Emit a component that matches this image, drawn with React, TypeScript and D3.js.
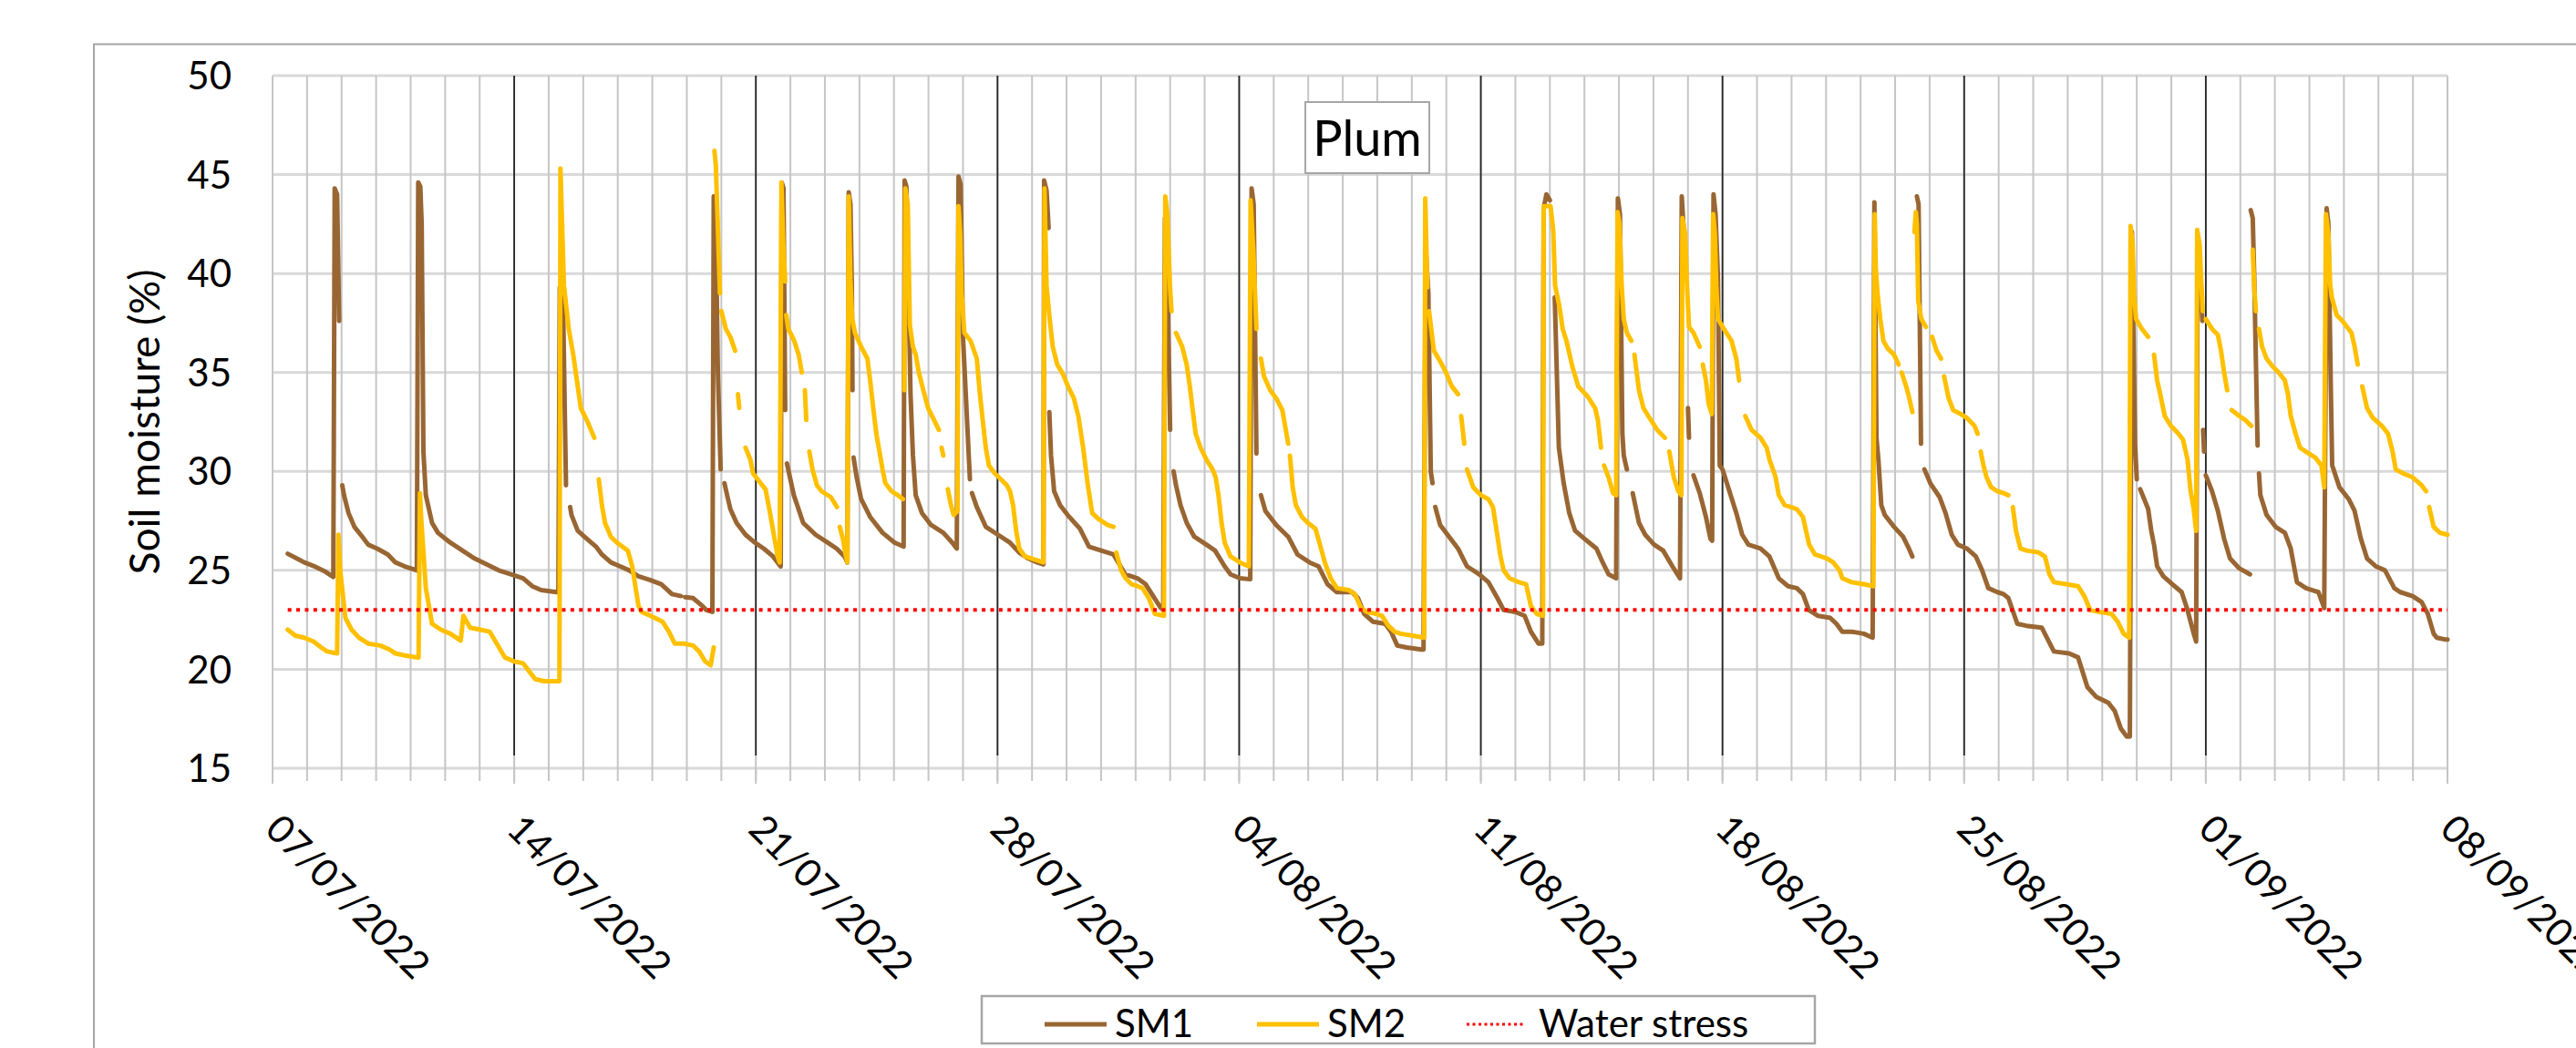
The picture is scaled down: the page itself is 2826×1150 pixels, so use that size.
import * as d3 from 'd3'
import { useRef, useEffect } from 'react'

const chartTitle = 'Plum'
const yTitle = 'Soil moisture (%)'
const startDate = new Date(2022, 6, 7)
const endDate = new Date(2022, 8, 8)
const yTicks = [15, 20, 25, 30, 35, 40, 45, 50]
const waterStress = 23
const weekLineBottom = 15.65
const seriesNames = ['SM1', 'SM2', 'Water stress']

// [days since 07/07/2022 00:00, soil moisture %]; null value = missing reading
const sm1 = [
  [0.44, 25.84], [0.75, 25.56], [0.92, 25.4], [1.19, 25.22], [1.5, 24.96], [1.76, 24.67],
  [1.8, 44.3], [1.87, 44.0], [1.93, 37.6], [1.96, null],
  [2.02, 29.3], [2.07, 28.8], [2.2, 27.9], [2.37, 27.2], [2.6, 26.7], [2.77, 26.3], [3.03, 26.1], [3.34, 25.8], [3.56, 25.4], [3.83, 25.2], [4.18, 25.0],
  [4.22, 44.6], [4.28, 44.4], [4.32, 42.5], [4.37, 31.0], [4.44, 28.8], [4.62, 27.4], [4.79, 26.9], [5.15, 26.4], [5.5, 26.0], [5.85, 25.6], [6.2, 25.3], [6.55, 25.0], [6.9, 24.8], [7.26, 24.6], [7.52, 24.2], [7.78, 24.0], [8.22, 23.9], [8.28, 23.9],
  [8.32, 39.3], [8.42, 38.0], [8.5, 29.3], [8.56, null],
  [8.62, 28.2], [8.66, 27.8], [8.84, 27.0], [9.1, 26.6], [9.37, 26.2], [9.54, 25.8], [9.8, 25.4], [10.07, 25.2], [10.33, 25.0], [10.6, 24.7], [10.95, 24.5], [11.26, 24.3], [11.57, 23.8], [11.83, 23.7], [11.9, null],
  [11.95, 23.65], [12.18, 23.6], [12.45, 23.2], [12.56, 23.0], [12.74, 22.9],
  [12.78, 43.9], [12.83, 43.5], [12.9, 35.0], [12.98, 30.1], [13.03, null],
  [13.09, 29.4], [13.18, 28.7], [13.26, 28.1], [13.44, 27.4], [13.7, 26.8], [13.97, 26.4], [14.23, 26.1], [14.5, 25.7], [14.67, 25.3], [14.72, 25.2],
  [14.75, 44.6], [14.8, 44.3], [14.85, 33.1], [14.87, null],
  [14.9, 30.4], [15.0, 29.6], [15.1, 28.8], [15.37, 27.4], [15.73, 26.8], [16.08, 26.4], [16.34, 26.1], [16.57, 25.7], [16.65, 25.4],
  [16.69, 44.1], [16.74, 43.5], [16.78, 39.4], [16.8, 34.1], [16.81, null],
  [16.83, 30.7], [16.92, 29.7], [17.05, 28.6], [17.31, 27.7], [17.67, 26.9], [18.02, 26.4], [18.28, 26.2],
  [18.31, 44.7], [18.36, 44.4], [18.42, 39.4], [18.48, 33.9], [18.55, 30.8], [18.63, 28.8], [18.81, 27.9], [19.07, 27.3], [19.43, 26.9], [19.69, 26.4], [19.82, 26.1],
  [19.87, 44.9], [19.93, 44.5], [20.0, 36.8], [20.2, 29.6], [20.23, null],
  [20.26, 28.9], [20.4, 28.2], [20.66, 27.2], [21.01, 26.8], [21.36, 26.4], [21.63, 25.9], [21.89, 25.6], [22.15, 25.4], [22.33, 25.3],
  [22.35, 44.7], [22.42, 44.2], [22.48, 42.3], [22.49, null],
  [22.5, 33.0], [22.55, 30.8], [22.64, 29.0], [22.81, 28.3], [23.03, 27.8], [23.39, 27.1], [23.65, 26.2], [24.0, 26.0], [24.36, 25.8], [24.53, 25.3], [24.7, 24.8], [25.05, 24.6], [25.29, 24.3], [25.47, 23.8], [25.73, 23.1], [25.8, 23.0],
  [25.85, 42.8], [25.9, 42.0], [26.0, 32.1], [26.05, null],
  [26.1, 30.0], [26.17, 29.3], [26.3, 28.3], [26.48, 27.4], [26.7, 26.7], [27.05, 26.3], [27.3, 26.0], [27.58, 25.2], [27.75, 24.8], [28.02, 24.6], [28.32, 24.55],
  [28.36, 44.3], [28.42, 43.5], [28.5, 30.9], [28.56, null],
  [28.63, 28.8], [28.76, 28.0], [29.07, 27.3], [29.42, 26.7], [29.69, 25.8], [30.04, 25.4], [30.3, 25.2], [30.56, 24.3], [30.83, 23.9], [31.27, 23.9], [31.44, 23.6], [31.62, 22.8], [31.88, 22.4], [32.23, 22.3], [32.4, 21.9], [32.58, 21.2], [32.85, 21.1], [33.28, 21.0], [33.34, 21.0],
  [33.4, 41.4], [33.48, 39.0], [33.55, 30.0], [33.6, 29.4], [33.64, null],
  [33.68, 28.2], [33.82, 27.3], [34.08, 26.7], [34.34, 26.1], [34.6, 25.2], [34.95, 24.8], [35.22, 24.4], [35.48, 23.6], [35.66, 23.0], [36.0, 22.9], [36.27, 22.7], [36.45, 21.9], [36.67, 21.3], [36.78, 21.3],
  [36.82, 43.3], [36.9, 44.0], [37.0, 43.7], [37.07, null],
  [37.14, 38.8], [37.18, 36.3], [37.26, 31.2], [37.4, 29.4], [37.56, 27.9], [37.73, 27.0], [38.0, 26.6], [38.35, 26.1], [38.53, 25.4], [38.7, 24.8], [38.92, 24.6],
  [38.97, 43.8], [39.03, 43.0], [39.1, 31.9], [39.14, 30.8], [39.23, 30.1], [39.3, null],
  [39.4, 28.9], [39.58, 27.4], [39.76, 26.8], [40.02, 26.3], [40.28, 26.0], [40.55, 25.2], [40.77, 24.6],
  [40.82, 43.9], [40.88, 42.1], [40.94, null],
  [41.0, 33.2], [41.03, 31.7], [41.1, null],
  [41.16, 29.8], [41.34, 28.9], [41.52, 27.7], [41.65, 26.6], [41.7, 26.5],
  [41.74, 44.0], [41.8, 43.0], [41.87, 39.7], [41.92, 30.3], [42.0, 30.1], [42.2, 29.0], [42.4, 27.9], [42.57, 26.8], [42.75, 26.3], [43.1, 26.1], [43.36, 25.7], [43.63, 24.6], [43.9, 24.2], [44.15, 24.1], [44.33, 23.8], [44.5, 23.0], [44.77, 22.7], [45.12, 22.6], [45.3, 22.3], [45.47, 21.9], [45.74, 21.9], [46.09, 21.8], [46.35, 21.6],
  [46.4, 43.6], [46.46, 31.7], [46.52, 30.5], [46.6, 28.3], [46.7, 27.8], [46.97, 27.2], [47.23, 26.7], [47.4, 26.1], [47.5, 25.7], [47.56, null],
  [47.63, 43.9], [47.68, 43.5], [47.75, 31.4], [47.8, null],
  [47.85, 30.1], [48.02, 29.4], [48.29, 28.7], [48.46, 27.9], [48.64, 26.8], [48.82, 26.3], [49.08, 26.1], [49.34, 25.7], [49.52, 25.0], [49.7, 24.1], [49.96, 23.9], [50.14, 23.8], [50.28, 23.6], [50.54, 22.3], [50.8, 22.2], [51.25, 22.1], [51.6, 20.9], [52.04, 20.8], [52.3, 20.6], [52.57, 19.1], [52.83, 18.6], [53.18, 18.3], [53.36, 17.9], [53.54, 17.0], [53.71, 16.6], [53.8, 16.6],
  [53.86, 42.1], [53.95, 31.4], [54.0, 29.6], [54.05, null],
  [54.1, 29.1], [54.33, 28.1], [54.42, 27.0], [54.5, 26.3], [54.59, 25.2], [54.77, 24.7], [55.03, 24.3], [55.3, 23.9], [55.47, 23.0], [55.65, 21.8], [55.72, 21.4],
  [55.76, 40.3], [55.85, 39.9], [55.9, 37.6], [55.91, null],
  [55.92, 32.1], [55.95, 31.0], [55.97, null],
  [56.0, 29.8], [56.18, 29.0], [56.35, 28.0], [56.53, 26.6], [56.7, 25.6], [56.97, 25.1], [57.28, 24.8], [57.29, null],
  [57.3, 43.2], [57.36, 42.8], [57.4, 40.0], [57.5, 31.3], [57.52, null],
  [57.54, 29.9], [57.58, 28.8], [57.76, 27.8], [58.02, 27.2], [58.29, 26.9], [58.46, 26.1], [58.64, 24.4], [58.9, 24.1], [59.26, 23.9], [59.43, 23.1],
  [59.5, 43.3], [59.55, 42.5], [59.62, 34.3], [59.66, 30.3], [59.7, 30.1], [59.87, 29.2], [60.14, 28.6], [60.31, 28.0], [60.49, 26.6], [60.67, 25.6], [60.93, 25.2], [61.19, 25.0], [61.46, 24.1], [61.63, 23.9], [61.99, 23.7], [62.25, 23.4], [62.43, 22.8], [62.6, 21.8], [62.69, 21.6], [62.95, 21.5], [63.0, 21.5],
]

const sm2 = [
  [0.44, 22.0], [0.66, 21.7], [0.92, 21.6], [1.19, 21.4], [1.41, 21.1], [1.58, 20.9], [1.87, 20.8],
  [1.91, 26.8], [1.96, 25.0], [2.11, 22.6], [2.29, 22.0], [2.5, 21.6], [2.77, 21.3], [3.12, 21.2], [3.39, 21.0], [3.56, 20.8], [3.83, 20.7], [4.18, 20.6], [4.23, 20.6],
  [4.27, 28.9], [4.31, 27.5], [4.44, 24.1], [4.62, 22.3], [4.88, 22.0], [5.15, 21.8], [5.41, 21.5], [5.45, 21.45],
  [5.53, 22.7], [5.72, 22.1], [6.02, 22.0], [6.29, 21.9], [6.46, 21.4], [6.73, 20.6], [6.99, 20.4], [7.26, 20.3], [7.43, 19.9], [7.61, 19.5], [7.87, 19.4], [8.31, 19.4],
  [8.34, 45.3], [8.44, 39.4], [8.58, 37.2], [8.71, 35.9], [8.84, 34.3], [8.93, 33.2], [9.1, 32.6], [9.32, 31.7], [9.38, null],
  [9.45, 29.6], [9.54, 28.3], [9.63, 27.4], [9.8, 26.7], [9.98, 26.4], [10.29, 26.0], [10.42, 25.2], [10.6, 23.2], [10.69, 22.9], [10.95, 22.7], [11.3, 22.4], [11.48, 21.9], [11.65, 21.3], [11.92, 21.3], [12.18, 21.2], [12.36, 20.9], [12.53, 20.4], [12.69, 20.2], [12.78, 21.1], [12.79, null],
  [12.8, 46.2], [12.84, 45.5], [12.96, 39.0], [12.98, null],
  [13.0, 38.1], [13.13, 37.2], [13.26, 36.8], [13.4, 36.1], [13.44, null],
  [13.48, 33.9], [13.52, 33.2], [13.6, null],
  [13.7, 31.2], [13.84, 30.6], [13.92, 29.9], [14.14, 29.4], [14.28, 29.1], [14.41, 27.9], [14.54, 26.6], [14.63, 25.7], [14.69, 25.4],
  [14.74, 44.6], [14.79, 41.7], [14.85, 39.6], [14.86, null],
  [14.88, 37.9], [14.94, 37.2], [15.11, 36.6], [15.24, 35.9], [15.33, 35.0], [15.38, null],
  [15.42, 34.1], [15.46, 32.6], [15.5, null],
  [15.55, 31.0], [15.64, 30.1], [15.77, 29.3], [15.9, 29.0], [16.17, 28.7], [16.35, 28.2], [16.39, null],
  [16.43, 27.2], [16.52, 26.6], [16.61, 25.7], [16.65, 25.4],
  [16.69, 43.9], [16.74, 39.7], [16.79, 37.7], [16.87, 37.0], [17.05, 36.3], [17.23, 35.7], [17.31, 34.6], [17.4, 33.2], [17.49, 31.9], [17.58, 31.0], [17.67, 30.1], [17.75, 29.4], [17.93, 29.0], [18.11, 28.8], [18.26, 28.6], [18.28, null],
  [18.3, 34.1], [18.33, 44.3], [18.4, 43.5], [18.46, 37.4], [18.55, 36.3], [18.63, 35.9], [18.72, 35.0], [18.85, 34.1], [18.99, 33.2], [19.16, 32.6], [19.3, 32.1], [19.34, null],
  [19.38, 31.2], [19.43, 30.8], [19.5, null],
  [19.56, 29.1], [19.65, 28.3], [19.73, 27.8], [19.84, 28.0],
  [19.87, 43.4], [19.92, 42.0], [19.96, 39.0], [20.04, 37.0], [20.22, 36.6], [20.4, 35.7], [20.48, 34.1], [20.57, 32.6], [20.66, 31.2], [20.75, 30.3], [20.92, 29.9], [21.1, 29.6], [21.27, 29.3], [21.36, 29.0], [21.45, 28.3], [21.54, 27.0], [21.63, 26.1], [21.8, 25.7], [21.98, 25.6], [22.33, 25.4],
  [22.36, 44.3], [22.42, 39.4], [22.51, 37.7], [22.6, 36.3], [22.73, 35.4], [22.9, 34.9], [23.04, 34.3], [23.21, 33.7], [23.34, 32.8], [23.48, 31.2], [23.61, 29.4], [23.74, 27.9], [23.92, 27.6], [24.18, 27.3], [24.36, 27.2], [24.4, null],
  [24.44, 25.9], [24.58, 25.0], [24.71, 24.6], [24.88, 24.3], [25.06, 24.2], [25.2, 24.1], [25.38, 23.6], [25.56, 22.8], [25.82, 22.7],
  [25.86, 43.9], [25.92, 43.0], [26.0, 39.2], [26.04, 38.1], [26.1, null],
  [26.17, 37.0], [26.35, 36.3], [26.48, 35.4], [26.57, 34.3], [26.66, 33.0], [26.74, 31.9], [26.88, 31.2], [27.05, 30.6], [27.23, 30.1], [27.32, 29.7], [27.4, 28.8], [27.49, 27.4], [27.58, 26.4], [27.75, 25.7], [28.02, 25.4], [28.28, 25.2],
  [28.33, 43.7], [28.41, 41.2], [28.5, 37.2], [28.56, null],
  [28.63, 35.7], [28.72, 34.8], [28.9, 34.1], [29.07, 33.7], [29.25, 33.1], [29.33, 32.3], [29.42, 31.4], [29.44, null],
  [29.47, 30.8], [29.55, 29.2], [29.64, 28.3], [29.82, 27.7], [29.99, 27.4], [30.21, 27.1], [30.34, 26.3], [30.48, 25.4], [30.65, 24.6], [30.83, 24.1], [31.18, 24.0], [31.35, 23.8], [31.53, 23.1], [31.7, 22.9], [31.97, 22.8], [32.14, 22.7], [32.32, 22.2], [32.5, 21.9], [32.67, 21.8], [33.02, 21.7], [33.36, 21.6],
  [33.39, 43.8], [33.45, 39.3], [33.47, null],
  [33.5, 38.1], [33.59, 36.8], [33.64, 36.1], [33.81, 35.6], [33.99, 35.0], [34.16, 34.3], [34.34, 33.9], [34.39, null],
  [34.43, 32.8], [34.52, 31.4], [34.56, null],
  [34.6, 30.1], [34.78, 29.2], [35.0, 28.8], [35.22, 28.6], [35.35, 28.2], [35.44, 27.2], [35.57, 25.7], [35.66, 25.0], [35.83, 24.6], [36.1, 24.4], [36.31, 24.3], [36.45, 23.2], [36.62, 22.8], [36.8, 22.7],
  [36.82, 43.4], [37.02, 43.4], [37.1, 42.1], [37.15, 39.4], [37.28, 38.3], [37.37, 37.2], [37.48, 36.6], [37.65, 35.3], [37.82, 34.3], [38.09, 33.8], [38.31, 33.2], [38.39, 32.6], [38.48, 31.2], [38.52, null],
  [38.57, 30.3], [38.7, 29.7], [38.83, 28.9], [38.92, 28.8],
  [38.96, 43.1], [39.02, 42.5], [39.08, 39.4], [39.14, 37.7], [39.23, 37.0], [39.36, 36.6], [39.4, null],
  [39.45, 35.9], [39.58, 34.1], [39.71, 33.2], [39.85, 32.8], [40.11, 32.1], [40.33, 31.7], [40.4, null],
  [40.46, 31.0], [40.59, 29.7], [40.72, 29.0], [40.81, 28.8],
  [40.84, 42.8], [40.92, 42.0], [40.97, 39.5], [41.03, 37.3], [41.16, 37.0], [41.34, 36.3], [41.38, null],
  [41.43, 35.4], [41.52, 34.6], [41.6, 33.4], [41.69, 32.9],
  [41.73, 43.0], [41.78, 42.0], [41.82, 39.4], [41.87, 37.7], [42.04, 37.2], [42.26, 36.6], [42.4, 35.7], [42.48, 34.6], [42.56, null],
  [42.66, 32.8], [42.84, 32.1], [43.1, 31.7], [43.28, 31.2], [43.36, 30.6], [43.54, 29.7], [43.63, 28.8], [43.8, 28.3], [44.15, 28.1], [44.33, 27.7], [44.42, 27.0], [44.51, 26.3], [44.68, 25.8], [45.03, 25.6], [45.21, 25.4], [45.39, 25.0], [45.47, 24.6], [45.74, 24.4], [46.09, 24.3], [46.37, 24.2],
  [46.41, 43.0], [46.44, 40.3], [46.49, 39.0], [46.57, 37.7], [46.66, 36.6], [46.79, 36.2], [46.97, 35.9], [47.1, 35.4], [47.15, null],
  [47.19, 35.0], [47.32, 34.3], [47.41, 33.7], [47.5, 33.0], [47.53, null],
  [47.56, 42.1], [47.6, 43.1], [47.63, 42.5], [47.67, 38.6], [47.76, 37.7], [47.89, 37.3], [47.98, null],
  [48.07, 36.8], [48.2, 36.1], [48.33, 35.7], [48.38, null],
  [48.42, 34.8], [48.55, 33.7], [48.68, 33.1], [48.9, 32.9], [49.08, 32.7], [49.3, 32.3], [49.39, 31.9], [49.44, null],
  [49.48, 31.0], [49.56, 30.3], [49.65, 29.7], [49.78, 29.2], [49.96, 29.0], [50.14, 28.9], [50.28, 28.8], [50.35, null],
  [50.41, 28.2], [50.5, 27.0], [50.63, 26.1], [50.81, 26.0], [51.16, 25.9], [51.34, 25.7], [51.47, 24.8], [51.6, 24.4], [51.95, 24.3], [52.3, 24.2], [52.48, 23.7], [52.65, 23.0], [52.92, 22.9], [53.27, 22.8], [53.45, 22.4], [53.62, 21.8], [53.78, 21.6],
  [53.82, 42.4], [53.88, 41.5], [53.92, 39.0], [53.98, 37.7], [54.15, 37.2], [54.33, 36.8], [54.42, null],
  [54.5, 35.9], [54.59, 34.6], [54.68, 33.9], [54.81, 32.8], [54.99, 32.3], [55.21, 31.9], [55.34, 31.6], [55.47, 30.6], [55.56, 29.0], [55.65, 28.1], [55.72, 27.0],
  [55.75, 42.2], [55.82, 41.5], [55.86, 39.9], [55.91, 38.1], [55.95, null],
  [56.0, 37.7], [56.18, 37.2], [56.35, 36.9], [56.44, 36.1], [56.53, 35.0], [56.62, 34.1], [56.68, null],
  [56.75, 33.1], [56.97, 32.8], [57.14, 32.6], [57.32, 32.3], [57.34, null],
  [57.36, 41.2], [57.4, 39.4], [57.45, 38.1], [57.5, null],
  [57.54, 37.2], [57.63, 36.3], [57.76, 35.7], [57.94, 35.3], [58.11, 35.0], [58.29, 34.6], [58.38, 33.9], [58.46, 32.8], [58.6, 31.9], [58.73, 31.2], [58.9, 31.0], [59.17, 30.7], [59.35, 30.3], [59.43, 29.2],
  [59.48, 43.0], [59.55, 42.0], [59.6, 39.5], [59.65, 38.8], [59.79, 37.9], [59.96, 37.6], [60.22, 37.0], [60.31, 36.3], [60.4, 35.4], [60.46, null],
  [60.53, 34.3], [60.67, 33.2], [60.84, 32.7], [61.1, 32.3], [61.28, 31.9], [61.41, 31.0], [61.5, 30.1], [61.72, 29.9], [61.99, 29.7], [62.25, 29.3], [62.38, 29.0], [62.42, null],
  [62.47, 28.2], [62.6, 27.2], [62.78, 26.9], [63.0, 26.8],
]

const colors = { sm1: '#996633', sm2: '#FFC000', stress: '#FF0000' }
const font = 'Lato, "Open Sans", sans-serif'

export default function App() {
  const svgRef = useRef<SVGSVGElement>(null)
  const width = 2826
  const height = 1150

  useEffect(() => {
    const svg = d3.select(svgRef.current)
    svg.selectAll('*').remove()

    const plot = { left: 299, right: 2685, top: 83, bottom: 843 }
    const toDate = (d: number) => new Date(startDate.getTime() + d * 864e5)

    const x = d3.scaleTime().domain([startDate, endDate]).range([plot.left, plot.right])
    const y = d3.scaleLinear().domain([15, 50]).range([plot.bottom, plot.top])

    // chart frame (runs off the page on the right and bottom)
    svg.append('rect')
      .attr('x', 103).attr('y', 48.5)
      .attr('width', 2800).attr('height', 1200)
      .attr('fill', '#fff').attr('stroke', '#a6a6a6').attr('stroke-width', 2)

    // horizontal gridlines
    svg.append('g').selectAll('line').data(yTicks).enter().append('line')
      .attr('x1', plot.left).attr('x2', plot.right)
      .attr('y1', d => y(d)).attr('y2', d => y(d))
      .attr('stroke', '#d9d9d9').attr('stroke-width', 3)

    // daily vertical gridlines, running down into tick marks
    const days = d3.timeDay.range(startDate, d3.timeDay.offset(endDate, 1))
    const weeks = d3.timeDay.range(startDate, d3.timeDay.offset(endDate, 1), 7)
    svg.append('g').selectAll('line').data(days).enter().append('line')
      .attr('x1', d => x(d)).attr('x2', d => x(d))
      .attr('y1', plot.top).attr('y2', plot.bottom + 14)
      .attr('stroke', '#c6c6c6').attr('stroke-width', 2)
    svg.append('g').selectAll('line').data(weeks).enter().append('line')
      .attr('x1', d => x(d)).attr('x2', d => x(d))
      .attr('y1', plot.bottom).attr('y2', plot.bottom + 17)
      .attr('stroke', '#c6c6c6').attr('stroke-width', 2)

    // weekly dark markers
    const innerWeeks = weeks.slice(1, -1)
    svg.append('g').selectAll('line').data(innerWeeks).enter().append('line')
      .attr('x1', d => x(d)).attr('x2', d => x(d))
      .attr('y1', y(50)).attr('y2', y(weekLineBottom))
      .attr('stroke', '#262626').attr('stroke-width', 1.8)

    const line = d3.line<any>()
      .defined(d => d[1] !== null)
      .x(d => x(toDate(d[0])))
      .y(d => y(d[1]))

    svg.append('path').datum(sm1)
      .attr('d', line)
      .attr('fill', 'none').attr('stroke', colors.sm1).attr('stroke-width', 5)
      .attr('stroke-linejoin', 'round').attr('stroke-linecap', 'round')

    svg.append('path').datum(sm2)
      .attr('d', line)
      .attr('fill', 'none').attr('stroke', colors.sm2).attr('stroke-width', 5)
      .attr('stroke-linejoin', 'round').attr('stroke-linecap', 'round')

    // water stress threshold over the logged period
    const stressLine = [[sm1[0][0], waterStress], [63, waterStress]]
    svg.append('path').datum(stressLine)
      .attr('d', line)
      .attr('fill', 'none').attr('stroke', colors.stress).attr('stroke-width', 4)
      .attr('stroke-dasharray', '4 5.4')

    // y tick labels
    svg.append('g').selectAll('text').data(yTicks).enter().append('text')
      .attr('x', 254).attr('y', d => y(d)).attr('dy', '0.36em')
      .attr('text-anchor', 'end')
      .style('font-family', font).style('font-size', '42px').attr('fill', '#000')
      .text(d => d)

    // y title
    svg.append('text')
      .attr('transform', `translate(175,${(plot.top + plot.bottom) / 2}) rotate(-90)`)
      .attr('text-anchor', 'middle')
      .style('font-family', font).style('font-size', '46px').attr('fill', '#000')
      .text(yTitle)

    // x tick labels
    const fmt = d3.timeFormat('%d/%m/%Y')
    svg.append('g').selectAll('text').data(weeks).enter().append('text')
      .attr('transform', d => `translate(${x(d) - 10},912) rotate(45)`)
      .style('font-family', font).style('font-size', '42px').attr('fill', '#000')
      .text(d => fmt(d))

    // chart title box
    const tb = svg.append('g')
    tb.append('rect')
      .attr('x', 1432).attr('y', 112).attr('width', 136).attr('height', 78)
      .attr('fill', '#fff').attr('stroke', '#a6a6a6').attr('stroke-width', 2)
    tb.append('text')
      .attr('x', 1500).attr('y', 171).attr('text-anchor', 'middle')
      .style('font-family', font).style('font-size', '54px').attr('fill', '#000')
      .text(chartTitle)

    // legend
    const lg = svg.append('g')
    lg.append('rect')
      .attr('x', 1077).attr('y', 1093).attr('width', 914).attr('height', 52)
      .attr('fill', '#fff').attr('stroke', '#a6a6a6').attr('stroke-width', 2.5)
    const items = [
      { name: seriesNames[0], x0: 1146, x1: 1214, tx: 1223, color: colors.sm1, w: 5, dash: null },
      { name: seriesNames[1], x0: 1379, x1: 1447, tx: 1456, color: colors.sm2, w: 5, dash: null },
      { name: seriesNames[2], x0: 1609, x1: 1674, tx: 1688, color: colors.stress, w: 3, dash: '3 3.5' },
    ]
    items.forEach(it => {
      lg.append('line')
        .attr('x1', it.x0).attr('x2', it.x1).attr('y1', 1124).attr('y2', 1124)
        .attr('stroke', it.color).attr('stroke-width', it.w)
        .attr('stroke-dasharray', it.dash)
      lg.append('text')
        .attr('x', it.tx).attr('y', 1138)
        .style('font-family', font).style('font-size', '42px').attr('fill', '#000')
        .text(it.name)
    })
  }, [])

  return (
    <svg ref={svgRef} width={width} height={height}
      style={{ position: 'absolute', left: 0, top: 0, background: '#fff' }}></svg>
  )
}
